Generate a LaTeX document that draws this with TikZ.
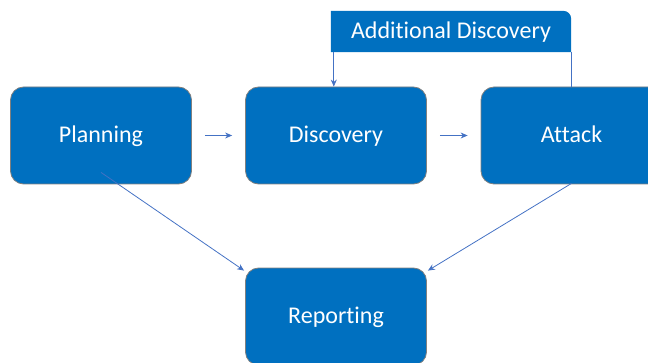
\documentclass[tikz,border=0pt]{standalone}
\usepackage{fontspec}
\setmainfont[Ligatures=NoCommon]{Carlito}
\usetikzlibrary{arrows.meta,backgrounds}
\definecolor{boxblue}{HTML}{0070C0}
\definecolor{linkblue}{HTML}{4472C4}
\tikzset{phase/.style={draw=gray,line width=0.8pt,fill=boxblue,rounded corners=13pt,
    minimum width=181pt,minimum height=97pt,text=white,font=\fontsize{24}{28}\selectfont,
    text height=17pt,text depth=2.5pt},
  link/.style={draw=linkblue,line width=0.8pt,-{Stealth[length=7pt,width=6pt]}}
}

\begin{document}
\begin{tikzpicture}[x=1pt,y=1pt]
    \useasboundingbox (0,0) rectangle (648,362);
    \clip (0,0) rectangle (648,362);

    % Phases
    \node[phase] (planning) at (101,226.5) {Planning};
    \node[phase] (discovery) at (336,226.5) {Discovery};
    \node[phase] (attack) at (571.5,226.5) {Attack};
    \node[phase] (reporting) at (336,45.5) {Reporting};

    % Additional discovery tab
    \node[text=white,font=\fontsize{24}{28}\selectfont,minimum width=240pt,
        minimum height=41pt,text height=17pt,text depth=2pt] (adddisc) at (451,330.5) {Additional Discovery};
    \begin{scope}[on background layer]
        \fill[boxblue] (adddisc.south west) -- (adddisc.north west)
            -- ([xshift=-8pt]adddisc.north east) arc (90:0:8pt) -- (adddisc.south east) -- cycle;
    \end{scope}

    % Links
    \draw[link,shorten <=13pt,shorten >=13pt] (planning) -- (discovery);
    \draw[link,shorten <=13pt,shorten >=13pt] (discovery) -- (attack);
    \coordinate (drop) at ([xshift=3pt]adddisc.south west);
    \draw[link] (drop) -- (drop |- discovery.north);
    \draw[link,-] (attack.north) -- (attack.north |- adddisc.south);
    \draw[link] ([yshift=12pt]planning.south) -- ([shift={(-1pt,-3pt)}]reporting.north west);
    \draw[link] ([yshift=1pt]attack.south) -- ([shift={(1pt,-3pt)}]reporting.north east);
\end{tikzpicture}
\end{document}
